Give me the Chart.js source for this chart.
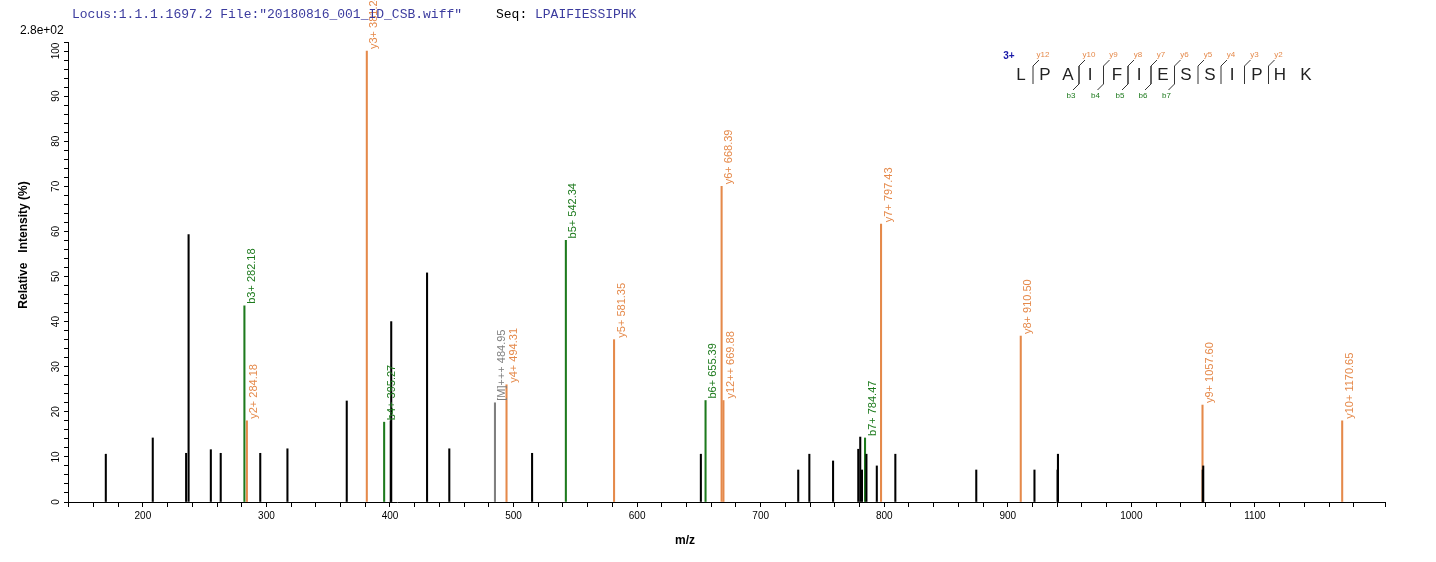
<!DOCTYPE html>
<html>
<head>
<meta charset="utf-8">
<script src="https://cdn.jsdelivr.net/npm/chart.js@4.4.0/dist/chart.umd.min.js"></script>
<style>
  body { margin: 0; background: #fff; }
</style>
</head>
<body>
<canvas id="spec" width="1436" height="562"></canvas>
<script>
// unassigned peaks [m/z, relative intensity]
const otherPeaks = [
  [170, 10.6], [208, 14.2], [235, 10.8], [237, 59.3], [255, 11.6], [263, 10.8],
  [295, 10.8], [317, 11.8], [365, 22.4], [400.6, 18], [401, 40], [430, 50.8],
  [448, 11.8], [515, 10.8], [651.6, 10.6], [730.4, 7.1], [739.4, 10.6],
  [758.6, 9.1], [779, 11.7], [780.6, 14.4], [782, 7.1], [785.6, 10.6],
  [794, 8], [809, 10.6], [874.5, 7.1], [921.6, 7.1], [940.3, 7.1], [940.6, 10.6],
  [1057.8, 7.1], [1058.2, 8]
];
const yIons = [
  [284.18, 18, 'y2+ 284.18'], [381.24, 100, 'y3+ 381.24'], [494.31, 26, 'y4+ 494.31'],
  [581.35, 36, 'y5+ 581.35'], [668.39, 70, 'y6+ 668.39'], [669.88, 22.5, 'y12++ 669.88'],
  [797.43, 61.6, 'y7+ 797.43'], [910.50, 36.8, 'y8+ 910.50'], [1057.60, 21.5, 'y9+ 1057.60'],
  [1170.65, 18, 'y10+ 1170.65']
];
const bIons = [
  [282.18, 43.5, 'b3+ 282.18'], [395.27, 17.7, 'b4+ 395.27'], [542.34, 58, 'b5+ 542.34'],
  [655.39, 22.5, 'b6+ 655.39'], [784.47, 14.2, 'b7+ 784.47']
];
const precursor = [[484.95, 22, '[M]+++ 484.95']];

const ORANGE = '#e5894a', GREEN = '#1d7a1d', GREY = '#808080';

function ds(arr, color) {
  return {
    data: arr.map(p => ({ x: p[0], y: p[1] })),
    backgroundColor: color, borderWidth: 0,
    barThickness: 1.4, grouped: false
  };
}

const labelPlugin = {
  id: 'labels',
  afterDraw(chart) {
    const c = chart.ctx, xs = chart.scales.x, ys = chart.scales.y;
    c.save();
    // peak labels
    c.font = '11px Arial, "Liberation Sans"';
    c.textBaseline = 'top';
    [[yIons, ORANGE], [bIons, GREEN], [precursor, GREY]].forEach(([arr, col]) => {
      c.fillStyle = col;
      arr.forEach(p => {
        const px = xs.getPixelForValue(p[0]), py = ys.getPixelForValue(p[1]);
        c.save();
        c.translate(px + 2, py - 2);
        c.rotate(-Math.PI / 2);
        c.textAlign = 'left';
        c.fillText(p[2], 0, 0);
        c.restore();
      });
    });
    // y tick labels, rotated
    c.fillStyle = '#000';
    c.font = '10px Arial, "Liberation Sans"';
    for (let v = 0; v <= 100; v += 10) {
      const py = ys.getPixelForValue(v);
      c.save();
      c.translate(56, py);
      c.rotate(-Math.PI / 2);
      c.textAlign = 'center';
      c.textBaseline = 'middle';
      c.fillText(String(v), 0, 0);
      c.restore();
    }
    // axis titles
    c.font = 'bold 12px Arial, "Liberation Sans"';
    c.save();
    c.translate(24, 245);
    c.rotate(-Math.PI / 2);
    c.textAlign = 'center';
    c.textBaseline = 'middle';
    c.fillText('Relative   Intensity (%)', 0, 0);
    c.restore();
    c.textAlign = 'center';
    c.textBaseline = 'middle';
    c.fillText('m/z', 685, 541);
    c.font = '12px Arial, "Liberation Sans"';
    c.textAlign = 'left';
    c.fillText('2.8e+02', 20, 31);
    // header
    c.font = '13px "Liberation Mono", "DejaVu Sans Mono", monospace';
    c.fillStyle = '#3b3b9e';
    c.fillText('Locus:1.1.1.1697.2 File:"20180816_001_ID_CSB.wiff"', 72, 15);
    c.fillStyle = '#000';
    c.fillText('Seq:', 496, 15);
    c.fillStyle = '#3b3b9e';
    c.fillText('LPAIFIESSIPHK', 535, 15);
    // sequence annotation
    const seq = 'LPAIFIESSIPHK'.split('');
    const sx = [1021, 1045, 1068, 1090, 1117, 1139, 1163, 1186, 1210, 1232, 1257, 1280, 1306];
    c.font = '17px Arial, "Liberation Sans"';
    c.fillStyle = '#222';
    c.textAlign = 'center';
    seq.forEach((s, i) => c.fillText(s, sx[i], 75));
    c.font = 'bold 10px Arial';
    c.fillStyle = '#1a1aa8';
    c.fillText('3+', 1009, 56);
    const yPos = [1, 3, 4, 5, 6, 7, 8, 9, 10, 11];
    const yNum = [12, 10, 9, 8, 7, 6, 5, 4, 3, 2];
    const bPos = [3, 4, 5, 6, 7];
    c.strokeStyle = '#333';
    c.lineWidth = 1;
    c.font = '8px Arial';
    yPos.forEach((k, i) => {
      const x = (sx[k - 1] + sx[k]) / 2;
      c.beginPath();
      c.moveTo(x, 84); c.lineTo(x, 66); c.lineTo(x + 6, 60); c.stroke();
      c.fillStyle = ORANGE;
      c.fillText('y' + yNum[i], x + 10, 55);
    });
    bPos.forEach((k) => {
      const x = (sx[k - 1] + sx[k]) / 2;
      c.beginPath();
      c.moveTo(x, 66); c.lineTo(x, 84); c.lineTo(x - 6, 90); c.stroke();
      c.fillStyle = GREEN;
      c.fillText('b' + k, x - 8, 96);
    });
    c.restore();
  }
};

new Chart(document.getElementById('spec'), {
  type: 'bar',
  data: {
    datasets: [ds(otherPeaks, '#000'), ds(yIons, ORANGE), ds(bIons, GREEN), ds(precursor, GREY)]
  },
  options: {
    responsive: false,
    animation: false,
    devicePixelRatio: 1,
    layout: { padding: { top: 42, right: 51, left: 0, bottom: 0 } },
    plugins: { legend: { display: false }, tooltip: { enabled: false } },
    scales: {
      x: {
        type: 'linear', min: 139.4, max: 1205.3, offset: false,
        border: { color: '#000', width: 1 },
        grid: { drawOnChartArea: false, tickLength: 5, color: '#000', offset: false },
        ticks: {
          stepSize: 20, color: '#000', font: { size: 10, family: 'Arial' },
          maxRotation: 0, autoSkip: false,
          callback: v => (v % 100 === 0 ? String(v) : '')
        },
        afterFit: s => { s.height = 60; }
      },
      y: {
        min: 0, max: 102,
        border: { color: '#000', width: 1 },
        grid: { drawOnChartArea: false, tickLength: 4, color: '#000' },
        ticks: { stepSize: 2, display: true, color: 'rgba(0,0,0,0)', callback: () => '' , autoSkip: false},
        afterFit: s => { s.width = 68; }
      }
    }
  },
  plugins: [labelPlugin]
});
</script>
</body>
</html>
